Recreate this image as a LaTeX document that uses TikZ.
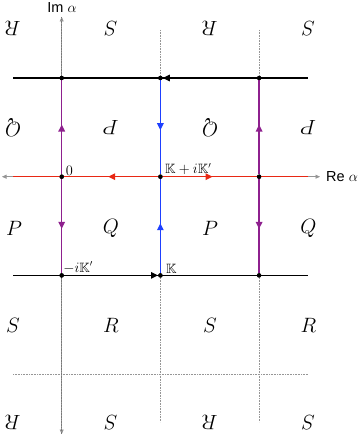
\documentclass[tikz,border=0pt]{standalone}
\usepackage{amssymb}
\usepackage{fontspec}
\setsansfont{Liberation Sans}
\usetikzlibrary{arrows.meta,decorations.markings}
\definecolor{cpurple}{RGB}{142,32,142}
\definecolor{cblue}{RGB}{30,64,255}
\definecolor{cred}{RGB}{232,40,20}
\definecolor{cgrid}{RGB}{150,150,150}
\begin{document}
\begin{tikzpicture}[x=1pt,y=-1pt,
  dot/.style={circle,fill=black,inner sep=0pt,minimum size=4.4pt},
  gridline/.style={cgrid,line width=0.6pt,densely dotted},
  axisline/.style={cgrid,line width=0.7pt},
  axtip/.style={{Triangle[length=4.5pt,width=4pt]}-{Triangle[length=4.5pt,width=4pt]}},
  blackline/.style={black,line width=1.2pt},
  pline/.style={cpurple,line width=1.5pt},
  bline/.style={cblue,line width=1.4pt},
  rline/.style={cred,line width=1.5pt},
  midarr/.style={postaction={decorate},decoration={markings,
     mark=at position 0.53 with {\arrow{Triangle[length=7pt,width=6.5pt]}}}},
  endarr/.style={-{Triangle[length=7pt,width=6.5pt]}},
  big/.style={font=\fontsize{21.5}{26}\selectfont,inner sep=0pt},
  flip/.style={big,rotate=180},
  lab/.style={font=\fontsize{13.5}{16}\selectfont,inner sep=0.5pt},
  axlab/.style={font=\fontsize{14.5}{17}\sffamily,inner sep=0pt}]
\useasboundingbox (0,0) rectangle (363,436);

% coordinates of free ends
\coordinate (v1t) at (160.4,30);  \coordinate (v1b) at (160.4,422);
\coordinate (v2t) at (259.1,30);  \coordinate (v2b) at (259.1,422);
\coordinate (h3l) at (13,374.1);  \coordinate (h3r) at (308,374.1);
\coordinate (imb) at (61.7,434);  \coordinate (imt) at (61.7,17);
\coordinate (rel) at (2,176.7);   \coordinate (rer) at (320,176.7);
\coordinate (h0l) at (13,78);     \coordinate (h0r) at (308,78);
\coordinate (h1l) at (13,176.7);  \coordinate (h1r) at (308,176.7);
\coordinate (h2l) at (13,275.4);  \coordinate (h2r) at (308,275.4);

% grid and axes
\draw[gridline] (v1t) -- (v1b);
\draw[gridline] (v2t) -- (v2b);
\draw[gridline] (h3l) -- (h3r);
\draw[axisline,axtip] (imb) -- (imt);
\draw[gridline,cgrid!80!black] (imb) -- (imt);
\draw[axisline,axtip] (rel) -- (rer);

% dots
\node[dot] (n00) at (61.7,78) {};
\node[dot] (n10) at (160.4,78) {};
\node[dot] (n20) at (259.1,78) {};
\node[dot] (n01) at (61.7,176.7) {};
\node[dot] (n11) at (160.4,176.7) {};
\node[dot] (n21) at (259.1,176.7) {};
\node[dot] (n02) at (61.7,275.4) {};
\node[dot] (n12) at (160.4,275.4) {};
\node[dot] (n22) at (259.1,275.4) {};

% horizontal lines
\draw[blackline] (h0l) -- (h0r);
\draw[blackline,endarr] (n20) -- (n10);
\draw[blackline] (h2l) -- (h2r);
\draw[blackline,endarr] (n02) -- (n12);
\draw[rline] (h1l) -- (h1r);
\draw[rline,midarr] (n11) -- (n01);
\draw[rline,midarr] (n11) -- (n21);

% vertical lines
\draw[pline,midarr] (n01) -- (n00);
\draw[pline,midarr] (n01) -- (n02);
\draw[bline,midarr] (n10) -- (n11);
\draw[bline,midarr] (n12) -- (n11);
\draw[pline,midarr] (n21) -- (n20);
\draw[pline,midarr] (n21) -- (n22);

% redraw dots on top
\foreach \n in {n00,n10,n20,n01,n11,n21,n02,n12,n22}
  \fill (\n.center) circle (2.2pt);

% point labels
\node[lab,anchor=south west] (l0) at ([xshift=3.5pt,yshift=1pt]n01.center) {$0$};
\node[lab,anchor=south west] (lKK) at ([xshift=4pt,yshift=1.5pt]n11.center) {$\mathbb{K}+i\mathbb{K}'$};
\node[lab,anchor=south west] (lmK) at ([xshift=1pt,yshift=1.5pt]n02.center) {$-i\mathbb{K}'$};
\node[lab,anchor=south west] (lK) at ([xshift=5pt,yshift=1.5pt]n12.center) {$\mathbb{K}$};

% axis labels
\node[axlab,anchor=west] (re) at (326,177) {Re $\alpha$};
\node[axlab] (im) at (62,8) {Im $\alpha$};

% region letters
\node[flip] (r00) at (13,28.7) {$R$};
\node[flip] (r10) at (111,28.7) {$S$};
\node[flip] (r20) at (210,28.7) {$R$};
\node[flip] (r30) at (308.5,28.7) {$S$};

\node[flip] (r01) at (13,127.4) {$Q$};
\node[flip] (r11) at (111,127.4) {$P$};
\node[flip] (r21) at (210,127.4) {$Q$};
\node[flip] (r31) at (308.5,127.4) {$P$};

\node[big] (r02) at (14,228) {$P$};
\node[big] (r12) at (111,228) {$Q$};
\node[big] (r22) at (210,228) {$P$};
\node[big] (r32) at (308.5,228) {$Q$};

\node[big] (r03) at (13,325) {$S$};
\node[big] (r13) at (111,325) {$R$};
\node[big] (r23) at (210,325) {$S$};
\node[big] (r33) at (308.5,325) {$R$};

\node[flip] (r04) at (13,423) {$R$};
\node[flip] (r14) at (111,423) {$S$};
\node[flip] (r24) at (210,423) {$R$};
\node[flip] (r34) at (308.5,423) {$S$};
\end{tikzpicture}
\end{document}
